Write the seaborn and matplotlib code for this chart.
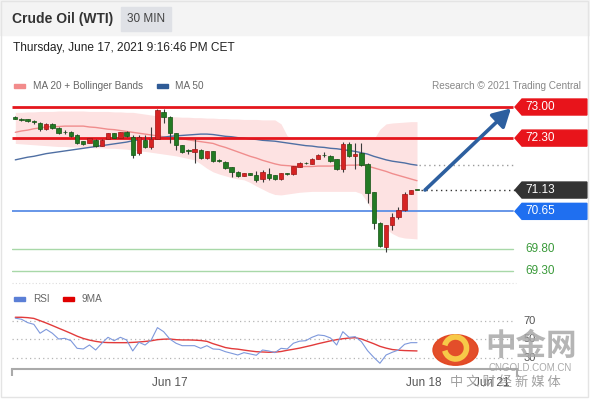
import numpy as np
import matplotlib
matplotlib.use("Agg")
import matplotlib.pyplot as plt
import seaborn as sns
from matplotlib.patches import Polygon, Rectangle, Circle, Arc
from matplotlib.transforms import blended_transform_factory

# 30 min candles
opens = [72.78, 72.73, 72.73, 72.67, 72.65, 72.50, 72.61, 72.53, 72.44, 72.44,
         72.38, 72.23, 72.20, 72.26, 72.13, 72.28, 72.41, 72.31, 72.43, 72.33,
         71.96, 72.26, 72.11, 72.29, 72.89, 72.78, 72.41, 72.14, 72.03, 71.98,
         72.03, 71.85, 72.01, 71.81, 71.77, 71.64, 71.54, 71.45, 71.51, 71.47,
         71.38, 71.50, 71.46, 71.37, 71.50, 71.49, 71.66, 71.74, 71.72, 71.84,
         71.92, 71.90, 71.82, 71.60, 72.17, 71.90, 71.96, 71.72, 71.08, 70.39,
         69.84, 70.34, 70.52, 70.67, 71.04, 71.13]
closes = [72.74, 72.70, 72.68, 72.66, 72.50, 72.62, 72.52, 72.42, 72.43, 72.35,
          72.20, 72.17, 72.30, 72.13, 72.26, 72.41, 72.31, 72.43, 72.34, 71.92,
          72.33, 72.11, 72.29, 72.93, 72.78, 72.41, 72.14, 71.99, 72.02, 72.05,
          71.86, 72.01, 71.78, 71.78, 71.62, 71.54, 71.45, 71.51, 71.47, 71.36,
          71.54, 71.40, 71.38, 71.51, 71.49, 71.67, 71.75, 71.73, 71.84, 71.93,
          71.91, 71.79, 71.60, 72.17, 71.90, 71.95, 71.69, 71.06, 70.38, 69.87,
          70.34, 70.53, 70.67, 71.04, 71.13, 71.13]
highs = [72.80, 72.75, 72.74, 72.70, 72.66, 72.63, 72.63, 72.55, 72.48, 72.46,
         72.39, 72.24, 72.31, 72.28, 72.27, 72.42, 72.42, 72.44, 72.45, 72.36,
         72.36, 72.37, 72.54, 72.95, 72.95, 72.79, 72.42, 72.15, 72.06, 72.29,
         72.05, 72.02, 72.02, 71.82, 71.78, 71.65, 71.55, 71.52, 71.52, 71.57,
         71.58, 71.62, 71.48, 71.52, 71.52, 71.68, 71.76, 71.76, 71.85, 71.95,
         71.98, 71.91, 71.83, 72.22, 72.22, 72.18, 72.20, 71.73, 71.09, 70.40,
         70.35, 70.62, 70.75, 71.08, 71.14, 71.14]
lows = [72.72, 72.68, 72.67, 72.62, 72.46, 72.49, 72.50, 72.40, 72.39, 72.33,
        72.17, 72.15, 72.19, 72.11, 72.12, 72.27, 72.30, 72.30, 72.33, 71.86,
        71.92, 72.08, 72.05, 72.28, 72.65, 72.18, 72.03, 71.96, 71.95, 71.73,
        71.84, 71.83, 71.76, 71.76, 71.60, 71.43, 71.43, 71.44, 71.46, 71.30,
        71.32, 71.36, 71.36, 71.36, 71.47, 71.48, 71.65, 71.71, 71.71, 71.83,
        71.88, 71.77, 71.58, 71.54, 71.88, 71.60, 71.67, 70.84, 70.25, 69.85,
        69.74, 70.22, 70.48, 70.65, 71.03, 71.12]

ma20 = [72.43, 72.46, 72.48, 72.51, 72.53, 72.55, 72.56, 72.56, 72.57, 72.57,
        72.57, 72.57, 72.55, 72.54, 72.52, 72.50, 72.49, 72.47, 72.45, 72.43,
        72.41, 72.39, 72.37, 72.35, 72.33, 72.31, 72.30, 72.29, 72.26, 72.24,
        72.22, 72.20, 72.18, 72.13, 72.09, 72.04, 71.99, 71.94, 71.89, 71.85,
        71.80, 71.76, 71.72, 71.69, 71.68, 71.67, 71.66, 71.66, 71.66, 71.67,
        71.67, 71.67, 71.68, 71.68, 71.69, 71.69, 71.70, 71.67, 71.63, 71.59,
        71.55, 71.50, 71.46, 71.42, 71.38, 71.34]
upper_band = [72.88, 72.88, 72.89, 72.89, 72.90, 72.90, 72.90, 72.91, 72.91, 72.91,
              72.91, 72.91, 72.90, 72.90, 72.90, 72.90, 72.89, 72.89, 72.88, 72.88,
              72.86, 72.84, 72.82, 72.80, 72.79, 72.78, 72.78, 72.77, 72.77, 72.76,
              72.76, 72.75, 72.75, 72.74, 72.74, 72.73, 72.73, 72.72, 72.72, 72.72,
              72.71, 72.71, 72.71, 72.62, 72.35, 72.28, 72.27, 72.27, 72.27, 72.27,
              72.27, 72.27, 72.27, 72.27, 72.27, 72.27, 72.27, 72.27, 72.27, 72.50,
              72.62, 72.64, 72.65, 72.66, 72.67, 72.67]
lower_band = [72.18, 72.17, 72.16, 72.15, 72.14, 72.13, 72.12, 72.11, 72.11, 72.10,
              72.10, 72.09, 72.09, 72.08, 72.08, 72.07, 72.07, 72.06, 72.05, 72.03,
              72.01, 72.00, 71.98, 71.96, 71.94, 71.92, 71.90, 71.87, 71.84, 71.81,
              71.72, 71.62, 71.54, 71.49, 71.45, 71.41, 71.38, 71.36, 71.30, 71.22,
              71.15, 71.08, 71.03, 71.02, 71.04, 71.06, 71.08, 71.09, 71.10, 71.10,
              71.10, 71.10, 71.10, 71.10, 71.10, 71.10, 71.05, 70.85, 70.60, 70.40,
              70.25, 70.15, 70.08, 70.05, 70.04, 70.03]
ma50 = [71.81, 71.84, 71.87, 71.89, 71.92, 71.95, 71.97, 71.99, 72.01, 72.03,
        72.05, 72.07, 72.09, 72.11, 72.13, 72.15, 72.17, 72.19, 72.21, 72.24,
        72.26, 72.28, 72.30, 72.31, 72.32, 72.34, 72.35, 72.36, 72.37, 72.38,
        72.39, 72.39, 72.38, 72.36, 72.34, 72.33, 72.31, 72.30, 72.28, 72.27,
        72.25, 72.24, 72.23, 72.21, 72.19, 72.17, 72.15, 72.13, 72.12, 72.10,
        72.09, 72.07, 72.06, 72.04, 72.02, 72.00, 71.97, 71.94, 71.89, 71.85,
        71.81, 71.78, 71.76, 71.74, 71.71, 71.69]

rsi = [72.6, 71.5, 67.9, 66.1, 56.6, 60.8, 56.6, 50.5, 51.2, 48.7,
       40.6, 39.9, 44.1, 38.8, 46.0, 52.3, 48.7, 52.3, 49.5, 37.8,
       47.0, 44.1, 49.5, 62.6, 58.3, 50.5, 46.0, 43.4, 43.4, 43.4,
       40.6, 43.4, 39.9, 39.5, 37.0, 35.3, 33.5, 36.0, 34.6, 33.2,
       38.8, 37.8, 36.0, 40.6, 39.9, 46.0, 48.2, 48.7, 52.3, 54.8,
       54.1, 51.6, 44.1, 58.3, 52.3, 53.0, 47.7, 38.1, 31.0, 24.7,
       33.5, 36.4, 38.8, 44.9, 46.6, 46.6]
rsi_ma9 = [73.6, 73.6, 73.2, 72.4, 70.0, 67.5, 64.8, 62.0, 59.3, 56.5,
           53.5, 51.1, 49.3, 48.0, 47.0, 46.7, 46.6, 46.6, 46.6, 46.9,
           47.3, 47.9, 48.6, 49.8, 50.3, 50.5, 49.8, 49.5, 49.5, 49.3,
           48.9, 48.0, 45.5, 43.5, 41.4, 40.3, 39.7, 38.7, 37.8, 37.0,
           36.7, 36.4, 36.5, 37.2, 38.5, 39.6, 40.8, 42.3, 43.8, 45.5,
           47.0, 48.5, 49.8, 50.8, 51.5, 51.9, 50.5, 48.0, 45.5, 42.7,
           40.8, 39.3, 38.6, 38.2, 38.0, 37.8]

resistances = [73.00, 72.30]
last_price = 71.13
pivot = 70.65
supports = [69.80, 69.30]
rsi_levels = [70, 50, 30]
date_labels = ["Jun 17", "Jun 18", "Jun 21"]
date_pos = [25.0, 66.1, 77.1]

W, H = 590, 400
STEP, X0 = 6.18, 15.3  # candle spacing / first candle, in pixels


def fx(px):
    return px / W


def fy(py):
    return 1 - py / H


def dx(px):
    return (px - X0) / STEP


sns.set_theme(style="white")
plt.rcParams["font.family"] = ["Liberation Sans", "DejaVu Sans"]

fig = plt.figure(figsize=(W / 100, H / 100), dpi=100)
fig.patch.set_facecolor("white")

# header
fig.patches.append(Rectangle((0, fy(35)), 1, 35 / H, transform=fig.transFigure,
                             color="#f4f4f4", zorder=0))
fig.patches.append(Rectangle((fx(121), fy(31)), 50 / W, 24 / H, transform=fig.transFigure,
                             color="#dfe1e6", zorder=1))
fig.patches.append(Rectangle((0.002, fy(397)), fx(587), 397 / H - 0.002, transform=fig.transFigure,
                             fill=False, ec="#e4e4e4", lw=1, zorder=0))
fig.text(fx(12), fy(19), "Crude Oil (WTI)", fontsize=10, weight="bold", color="#333333", va="center")
fig.text(fx(146), fy(19), "30 MIN", fontsize=8.5, color="#444444", va="center", ha="center")
fig.text(fx(13), fy(48), "Thursday, June 17, 2021 9:16:46 PM CET", fontsize=8.6, color="#222222", va="center")

# legends
fig.patches.append(Rectangle((fx(14), fy(88)), 11 / W, 4 / H, transform=fig.transFigure, color="#f28b8b"))
fig.text(fx(33), fy(86), "MA 20 + Bollinger Bands", fontsize=7.2, color="#666666", va="center")
fig.patches.append(Rectangle((fx(157), fy(88)), 11 / W, 4 / H, transform=fig.transFigure, color="#2f5b96"))
fig.text(fx(175), fy(86), "MA 50", fontsize=7.2, color="#666666", va="center")
fig.text(fx(581), fy(86), "Research © 2021 Trading Central", fontsize=7.2, color="#888888",
         va="center", ha="right")
fig.patches.append(Rectangle((fx(14), fy(301)), 11 / W, 4 / H, transform=fig.transFigure, color="#5b7fd6"))
fig.text(fx(33), fy(299), "RSI", fontsize=7.2, color="#666666", va="center")
fig.patches.append(Rectangle((fx(63), fy(301)), 11 / W, 4 / H, transform=fig.transFigure, color="#e00000"))
fig.text(fx(82), fy(299), "9MA", fontsize=7.2, color="#666666", va="center")

# ---- price pane
ax = fig.add_axes([fx(12), fy(282), (517 - 12) / W, (282 - 96) / H])
xlim = (dx(12), dx(517))
ax.set_xlim(*xlim)
ax.set_ylim(69.059, 73.248)
ax.axis("off")

idx = np.arange(len(opens))
o, c = np.array(opens), np.array(closes)
hi, lo = np.array(highs), np.array(lows)

ax.fill_between(idx, lower_band, upper_band, color="#fde2e2", lw=0, zorder=1)
sns.lineplot(x=idx, y=ma20, ax=ax, color="#f08d8d", lw=1, zorder=2)
sns.lineplot(x=idx, y=ma50, ax=ax, color="#4f6fa3", lw=1, zorder=2)

for p in resistances:
    ax.plot([xlim[0], dx(513)], [p, p], color="#e5161d", lw=2, zorder=3, solid_capstyle="butt")
ax.plot([xlim[0], dx(513)], [pivot, pivot], color="#5b8ee6", lw=1.3, zorder=3)
for p in supports:
    ax.plot([xlim[0], dx(513)], [p, p], color="#a8d8a8", lw=1, zorder=3)
ax.plot([dx(421), dx(515)], [last_price, last_price], color="#333333", lw=1, ls=(0, (1, 2.5)), zorder=3)
ax.plot([dx(419), dx(515)], [ma50[-1], ma50[-1]], color="#9a9a9a", lw=1, ls=(0, (1, 2.5)), zorder=3)

up = c > o
colors = np.where(up, "#d62323", "#237a23")
edges = np.where(up, "#9e1414", "#135213")
ax.vlines(idx, lo, hi, color="#3a3a3a", lw=0.8, zorder=4)
ax.bar(idx, np.maximum(np.abs(c - o), 0.015), bottom=np.minimum(o, c), width=0.7,
       color=colors, edgecolor=edges, linewidth=0.5, zorder=5)

ax.annotate("", xy=(dx(511), 72.97), xytext=(dx(425), last_price),
            arrowprops=dict(arrowstyle="-|>,head_length=0.9,head_width=0.5", color="#2d5f9f",
                            lw=2.6, shrinkA=0, shrinkB=0), zorder=6)

# price tags
tr = blended_transform_factory(fig.transFigure, ax.transData)
hh = 8 / 44.4
tags = [(resistances[0], "#e8141b", "white"), (resistances[1], "#e8141b", "white"),
        (last_price, "#333333", "white"), (pivot, "#1f6ff0", "white")]
for p, fc, tc in tags:
    poly = Polygon([(fx(515), p), (fx(522), p + hh), (fx(587), p + hh), (fx(587), p - hh), (fx(522), p - hh)],
                   closed=True, transform=tr, color=fc, clip_on=False, zorder=7)
    ax.add_patch(poly)
    ax.text(fx(525), p, f"{p:.2f}", transform=tr, color=tc, fontsize=8.5, va="center", ha="left", zorder=8)
for p in supports:
    ax.text(fx(525), p, f"{p:.2f}", transform=tr, color="#3a9a3a", fontsize=8.5, va="center", ha="left")

# ---- RSI pane
fig.add_artist(plt.Line2D([fx(12), fx(516)], [fy(283), fy(283)], transform=fig.transFigure,
                          color="#dddddd", lw=0.8, ls=(0, (1, 2))))
ax2 = fig.add_axes([fx(12), fy(369), (517 - 12) / W, (369 - 309) / H])
ax2.set_xlim(*xlim)
ax2.set_ylim(18.6, 82.4)
for lv in rsi_levels:
    ax2.plot([xlim[0], dx(515)], [lv, lv], color="#b5b5b5", lw=0.9, ls=(0, (1, 2.5)))
    ax2.text(fx(530), lv, str(lv), transform=blended_transform_factory(fig.transFigure, ax2.transData),
             fontsize=8, color="#555555", ha="center", va="center")
sns.lineplot(x=idx, y=rsi_ma9, ax=ax2, color="#e23b3b", lw=1)
sns.lineplot(x=idx, y=rsi, ax=ax2, color="#7d98dc", lw=0.8)

for s in ["top", "right", "left"]:
    ax2.spines[s].set_visible(False)
ax2.spines["bottom"].set_color("#aaaaaa")
ax2.spines["bottom"].set_linewidth(1.5)
ax2.set_yticks([])
ax2.set_xticks(date_pos)
ax2.set_xticklabels(date_labels, fontsize=8.5, color="#555555")
ax2.tick_params(axis="x", length=0, pad=6)
ax2.set_xticks([xlim[0] + 0.05, xlim[1] - 0.05], minor=True)
ax2.tick_params(axis="x", which="minor", length=5, width=1.5, color="#aaaaaa", bottom=True)
ax2.set_xlabel("")
ax2.set_facecolor("none")

# watermark
fig.patches.append(Circle((fx(455.5), fy(350)), 22.5 / W, transform=fig.transFigure,
                          color="#e2441e", alpha=0.95, zorder=10))
fig.patches.append(Arc((fx(455.5), fy(348)), 22 / W, 22 / H, theta1=200, theta2=520,
                       transform=fig.transFigure, color="#f7c948", lw=4, zorder=11))
fig.text(fx(531), fy(346), "中金网", fontsize=22, weight="bold", color="#a8a8a8", alpha=0.85,
         ha="center", va="center", family=["Noto Sans CJK SC", "DejaVu Sans"], zorder=12)
fig.text(fx(530), fy(368), "CNGOLD.COM.CN", fontsize=7, color="#a0a0a0", alpha=0.9,
         ha="center", va="center", zorder=12)
fig.text(fx(505), fy(382), "中 文 财 经 新 媒 体", fontsize=9.5, color="#8f8f8f", alpha=0.85,
         ha="center", va="center", family=["Noto Sans CJK SC", "DejaVu Sans"], zorder=12)

fig.savefig("out.png", dpi=100)
